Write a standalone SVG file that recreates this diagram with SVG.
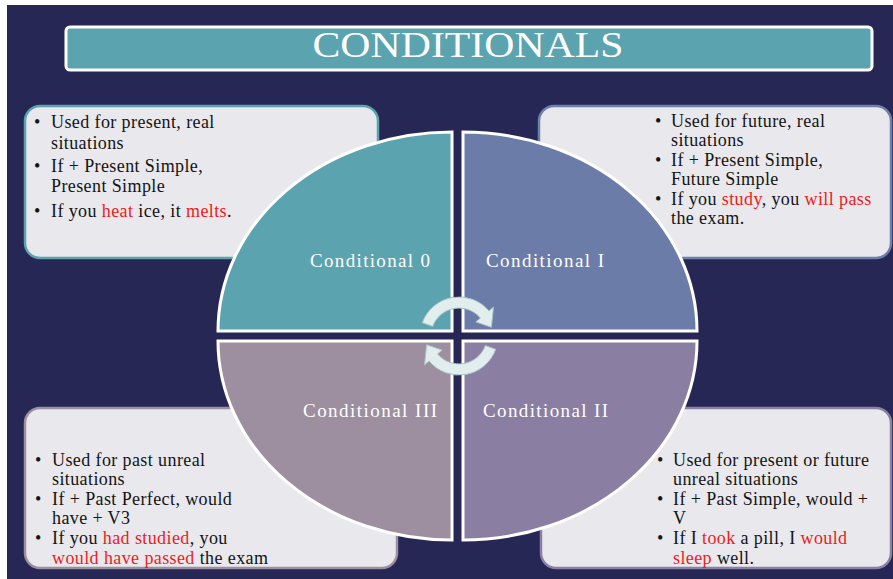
<svg xmlns="http://www.w3.org/2000/svg" width="893" height="579" viewBox="0 0 893 579">
<style>
.txt{font-family:"Liberation Serif","Times New Roman",serif;font-size:18px;fill:#141414;letter-spacing:0.4px}
.red{fill:#ee1c1c}
.lbl{font-family:"Liberation Serif","Times New Roman",serif;font-size:19px;fill:#ffffff}
.box{fill:#e8e8ed;stroke-width:2.5}
.quad{stroke:#ffffff;stroke-width:3;stroke-linejoin:miter}
.arr{fill:#e2eeee;stroke:#a8c3c7;stroke-width:1}
</style>
<rect x="0" y="0" width="893" height="579" fill="#ffffff"/>
<rect x="7" y="5" width="886" height="574" fill="#262754"/>
<g id="title">
<rect x="66" y="27" width="806" height="43" rx="4" fill="#5ba3ae" stroke="#ffffff" stroke-width="3"/>
<text x="468" y="57" text-anchor="middle" textLength="311" lengthAdjust="spacingAndGlyphs" style="font-family:'Liberation Serif','Times New Roman',serif;font-size:36px;fill:#ffffff">CONDITIONALS</text>
</g>
<g id="cond0">
<rect class="box" x="25" y="106" width="353" height="152" rx="15" stroke="#5ba3ae"/>
<text class="txt" x="34" y="128">•</text><text class="txt" x="51" y="128">Used for present,  real</text>
<text class="txt" x="51" y="149">situations</text>
<text class="txt" x="34" y="172">•</text><text class="txt" x="51" y="172">If + Present Simple,</text>
<text class="txt" x="51" y="192">Present Simple</text>
<text class="txt" x="34" y="217">•</text><text class="txt" x="51" y="217">If you <tspan class="red">heat</tspan> ice, it <tspan class="red">melts</tspan>.</text>
<path class="quad" d="M452,331 L218,331 A234,199 0 0 1 452,132 Z" fill="#5ba3ae"/>
<text class="lbl" x="310" y="267" textLength="120" lengthAdjust="spacing">Conditional 0</text>
</g>
<g id="cond1">
<rect class="box" x="539" y="106" width="352" height="152" rx="15" stroke="#6d7fab"/>
<text class="txt" x="655" y="127">•</text><text class="txt" x="671" y="127">Used for future, real</text>
<text class="txt" x="671" y="146">situations</text>
<text class="txt" x="655" y="166">•</text><text class="txt" x="671" y="166">If + Present Simple,</text>
<text class="txt" x="671" y="185">Future Simple</text>
<text class="txt" x="655" y="205">•</text><text class="txt" x="671" y="205">If you <tspan class="red">study</tspan>, you <tspan class="red">will pass</tspan></text>
<text class="txt" x="671" y="224">the exam.</text>
<path class="quad" d="M463,331 L463,132 A234,199 0 0 1 697,331 Z" fill="#6b7ca8"/>
<text class="lbl" x="486" y="267" textLength="118" lengthAdjust="spacing">Conditional I</text>
</g>
<g id="cond3">
<rect class="box" x="25" y="408" width="372" height="160" rx="15" stroke="#9d8fa0"/>
<text class="txt" x="35" y="466">•</text><text class="txt" x="52" y="466">Used for past unreal</text>
<text class="txt" x="52" y="485">situations</text>
<text class="txt" x="35" y="505">•</text><text class="txt" x="52" y="505">If + Past Perfect, would</text>
<text class="txt" x="52" y="524">have + V3</text>
<text class="txt" x="35" y="544">•</text><text class="txt" x="52" y="544">If you <tspan class="red">had studied</tspan>, you</text>
<text class="txt" x="52" y="564"><tspan class="red">would have passed</tspan> the exam</text>
<path class="quad" d="M452,341 L452,540 A234,199 0 0 1 218,341 Z" fill="#9d8fa0"/>
<text class="lbl" x="303" y="417" textLength="134" lengthAdjust="spacing">Conditional III</text>
</g>
<g id="cond2">
<rect class="box" x="541" y="408" width="350" height="160" rx="15" stroke="#8a7fa5"/>
<text class="txt" x="657" y="466">•</text><text class="txt" x="673" y="466">Used for present or future</text>
<text class="txt" x="673" y="485">unreal situations</text>
<text class="txt" x="657" y="505">•</text><text class="txt" x="673" y="505">If + Past Simple, would +</text>
<text class="txt" x="673" y="524">V</text>
<text class="txt" x="657" y="544">•</text><text class="txt" x="673" y="544">If I <tspan class="red">took</tspan> a pill, I <tspan class="red">would</tspan></text>
<text class="txt" x="673" y="564"><tspan class="red">sleep</tspan> well.</text>
<path class="quad" d="M463,341 L697,341 A234,199 0 0 1 463,540 Z" fill="#8a7ea3"/>
<text class="lbl" x="483" y="417" textLength="125" lengthAdjust="spacing">Conditional II</text>
</g>
<g id="connectors">
<path id="arrTop" class="arr" d="M422.3,322.7 A39,39 0 0 1 488.9,310.9 L493.5,307.1 L491.4,327.3 L475.9,321.9 L480.4,318.0 A28,28 0 0 0 432.7,326.4 Z"/>
<path class="arr" d="M422.3,322.7 A39,39 0 0 1 488.9,310.9 L493.5,307.1 L491.4,327.3 L475.9,321.9 L480.4,318.0 A28,28 0 0 0 432.7,326.4 Z" transform="rotate(180 459 336)"/>
</g>
</svg>
